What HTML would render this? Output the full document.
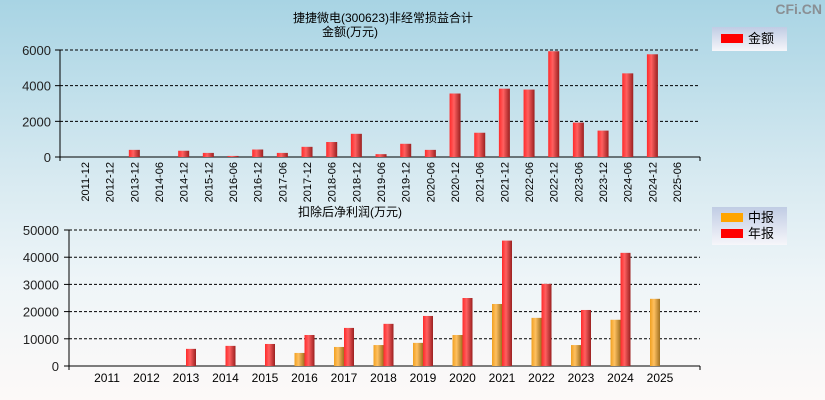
<!DOCTYPE html>
<html><head><meta charset="utf-8"><style>
html,body{margin:0;padding:0}
body{width:825px;height:400px;overflow:hidden;background:linear-gradient(#a8d4e4,#d8eaf1 45%,#eef5f8 70%,#fdf9f8);font-family:"Liberation Sans","Noto Sans CJK SC",sans-serif}
svg{position:absolute;left:0;top:0}
</style></head><body>
<svg id="c" width="825" height="400">
<defs>
<linearGradient id="gr" x1="0" x2="1"><stop offset="0" stop-color="#ff2a2a"/><stop offset="0.4" stop-color="#ff6060"/><stop offset="1" stop-color="#9a2020"/></linearGradient>
<linearGradient id="go" x1="0" x2="1"><stop offset="0" stop-color="#f0a020"/><stop offset="0.4" stop-color="#ffc060"/><stop offset="1" stop-color="#a07020"/></linearGradient>
<linearGradient id="lg" x1="0" y1="0" x2="0" y2="1"><stop offset="0" stop-color="#c0cce4"/><stop offset="1" stop-color="#f6f6fa"/></linearGradient>
</defs>
</svg>
<script>
const topCats=["2011-12","2012-12","2013-12","2014-06","2014-12","2015-12","2016-06","2016-12","2017-06","2017-12","2018-06","2018-12","2019-06","2019-12","2020-06","2020-12","2021-06","2021-12","2022-06","2022-12","2023-06","2023-12","2024-06","2024-12","2025-06"];
const topVals=[0,0,400,0,350,230,60,420,230,570,840,1300,160,740,400,3560,1360,3830,3780,5930,1930,1480,4690,5760,0];
const topTicks=[0,2000,4000,6000];
const years=["2011","2012","2013","2014","2015","2016","2017","2018","2019","2020","2021","2022","2023","2024","2025"];
const halfVals=[0,0,0,0,0,4800,7000,7700,8500,11400,22800,17700,7700,17000,24700];
const annualVals=[0,0,6300,7400,8100,11400,14000,15500,18400,25000,46100,30200,20600,41600,0];
const botTicks=[0,10000,20000,30000,40000,50000];
const svg=document.getElementById('c');const NS="http://www.w3.org/2000/svg";
function mk(t,a,txt){const e=document.createElementNS(NS,t);for(const k in a)e.setAttribute(k,a[k]);if(txt!==undefined)e.textContent=txt;svg.appendChild(e);return e;}
// top chart
const tY=v=>157-v/6000*107, tX=i=>85+i*24.67;
let e;
e=mk('text',{x:383,y:22,'font-size':12,'text-anchor':'middle',fill:'#000'},'捷捷微电(300623)非经常损益合计');


e=mk('text',{x:322,y:36,'font-size':12,fill:'#000'},'金额(万元)');


topTicks.forEach(v=>{
 if(v>0){e=mk('line',{x1:60,x2:700,y1:tY(v),y2:tY(v),stroke:'#000','stroke-dasharray':'3,2'});}
 e=mk('text',{x:51,y:tY(v)+5,'font-size':13,'text-anchor':'end',fill:'#222'},v);
 
 
 mk('line',{x1:55,x2:60,y1:tY(v),y2:tY(v),stroke:'#000'});
});
mk('line',{x1:60,x2:60,y1:50,y2:161,stroke:'#000'});
mk('line',{x1:60,x2:700,y1:157,y2:157,stroke:'#000'});
mk('line',{x1:700,x2:700,y1:157,y2:161,stroke:'#000'});
topCats.forEach((c,i)=>{
 const x=tX(i);
 if(topVals[i]>0){e=mk('rect',{x:x-5.5,y:tY(topVals[i]),width:11,height:157-tY(topVals[i]),fill:'url(#gr)'});
 
 }
 e=mk('text',{x:0,y:0,'font-size':11,'text-anchor':'end',fill:'#000',transform:`translate(${x+4},162) rotate(-90)`},c);
 
 
});
e=mk('rect',{x:712,y:27,width:75,height:24,fill:'url(#lg)'});


mk('rect',{x:721,y:34,width:22,height:9,fill:'#f00'});
e=mk('text',{x:748,y:43,'font-size':13,fill:'#000'},'金额');


// bottom chart
const bY=v=>366-v/50000*136, bX=i=>107+i*39.5;
e=mk('text',{x:350,y:216,'font-size':12,'text-anchor':'middle',fill:'#000'},'扣除后净利润(万元)');


botTicks.forEach(v=>{
 if(v>0){e=mk('line',{x1:69,x2:700,y1:bY(v),y2:bY(v),stroke:'#000','stroke-dasharray':'3,2'});}
 e=mk('text',{x:59,y:bY(v)+5,'font-size':13,'text-anchor':'end',fill:'#222'},v);
 
 
 mk('line',{x1:64,x2:69,y1:bY(v),y2:bY(v),stroke:'#000'});
});
mk('line',{x1:69,x2:69,y1:230,y2:370,stroke:'#000'});
mk('line',{x1:69,x2:700,y1:366,y2:366,stroke:'#000'});
mk('line',{x1:700,x2:700,y1:366,y2:370,stroke:'#000'});
years.forEach((y,i)=>{
 const x=bX(i);
 if(halfVals[i]>0){e=mk('rect',{x:x-10,y:bY(halfVals[i]),width:10,height:366-bY(halfVals[i]),fill:'url(#go)'});
 
 }
 if(annualVals[i]>0){e=mk('rect',{x:x,y:bY(annualVals[i]),width:10,height:366-bY(annualVals[i]),fill:'url(#gr)'});
 
 }
 e=mk('text',{x:x,y:382,'font-size':12,'text-anchor':'middle',fill:'#000'},y);
 
 
});
e=mk('rect',{x:712,y:207,width:75,height:38,fill:'url(#lg)'});


mk('rect',{x:721,y:213,width:22,height:9,fill:'#ffa500'});
e=mk('text',{x:748,y:222,'font-size':13,fill:'#000'},'中报');


mk('rect',{x:721,y:229,width:22,height:9,fill:'#f00'});
e=mk('text',{x:748,y:238,'font-size':13,fill:'#000'},'年报');


e=mk('text',{x:822,y:14,'font-size':14,'font-weight':'bold','text-anchor':'end',fill:'#8a8f94'},'CFi.CN');


</script>
</body></html>
